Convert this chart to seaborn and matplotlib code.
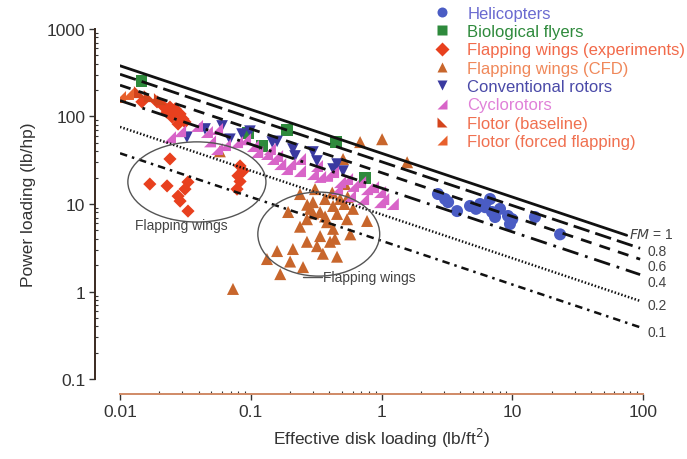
import numpy as np
import pandas as pd
import matplotlib
matplotlib.use("Agg")
import matplotlib.pyplot as plt
import seaborn as sns
from matplotlib.patches import Ellipse
from matplotlib.lines import Line2D
from matplotlib.ticker import LogLocator, NullFormatter, FixedLocator, FixedFormatter

# ---------------- data ----------------
hel_dl = [2.70, 3.06, 3.23, 3.78, 4.75, 5.28, 5.67, 6.19, 6.76, 7.0, 7.38, 8.06, 9.27, 9.6, 10.0, 14.9, 23.2]
hel_pl = [13.0, 11.4, 10.5, 8.3, 9.5, 8.8, 10.0, 9.2, 11.4, 8.1, 7.1, 8.8, 7.3, 5.9, 6.7, 7.1, 4.5]

bio_dl = [0.0147, 0.0953, 0.122, 0.189, 0.449, 0.748]
bio_pl = [255, 64.7, 46, 70, 51, 19.8]

fwe_dl = [0.0147, 0.0192, 0.0213, 0.0241, 0.0264, 0.0288, 0.0303, 0.0314, 0.0278, 0.0229, 0.025,
          0.0241, 0.0169, 0.0229, 0.0278, 0.0314, 0.0331, 0.0288, 0.0331,
          0.0828, 0.0798, 0.0828, 0.0785, 0.0873]
fwe_pl = [147, 147, 132, 128, 122, 107, 93.6, 86.5, 82, 112, 98.6,
          32.7, 16.9, 16.1, 12.3, 14.8, 17.8, 10.8, 8.3,
          27.2, 21, 18.1, 14.8, 23.8]

cfd_dl = [0.193, 0.238, 0.299, 0.269, 0.339, 0.383, 0.426, 0.482, 0.426, 0.339, 0.269, 0.210, 0.159,
          0.133, 0.168, 0.251, 0.457, 0.775, 0.0731, 0.321, 0.404, 0.545, 0.605, 0.686, 1.01, 1.57,
          0.508, 0.284, 0.37, 0.526, 0.31, 0.457, 0.238, 0.577, 0.2, 0.356, 0.42, 0.37, 0.30, 0.55,
          0.27, 0.44, 0.52, 0.058]
cfd_pl = [8.1, 13.0, 10.5, 6.7, 8.1, 6.2, 9.5, 11.4, 5.2, 4.3, 3.7, 3.06, 2.9,
          2.35, 1.58, 1.9, 2.5, 6.4, 1.07, 3.3, 3.7, 6.7, 8.8, 51, 55, 30,
          32.7, 8.8, 11.4, 16.9, 14.8, 7.7, 5.5, 4.5, 2.2, 2.7, 13.5, 7.2, 7.8, 12,
          9.8, 4.0, 10, 40]

conv_dl = [0.0325, 0.0603, 0.0693, 0.0857, 0.0986, 0.146, 0.159, 0.21, 0.218, 0.299, 0.321, 0.426,
           0.508, 0.457, 0.0447]
conv_pl = [58, 78, 55, 63, 68, 51, 52, 42.5, 35.4, 39.3, 31, 25.1, 23.8, 28.6, 72]

cyc_dl = [0.0241, 0.0288, 0.0388, 0.0462, 0.0552, 0.0488, 0.0552, 0.0635, 0.0785, 0.104, 0.112, 0.133,
          0.148, 0.159, 0.168, 0.189, 0.2, 0.238, 0.238, 0.299, 0.321, 0.339, 0.383, 0.426, 0.482,
          0.545, 0.605, 0.457, 0.574, 0.686, 0.723, 0.775, 0.861, 0.975, 1.03, 0.975, 1.22, 0.14, 0.0904]
cyc_pl = [58, 68, 78, 66.5, 72, 52, 42.5, 47.2, 51, 46, 39.3, 37.3,
          32.7, 35.4, 28.6, 25.1, 28.6, 23.8, 32.7, 22, 27.2, 20.4, 21, 23.2, 17.8,
          19.3, 16.1, 14.8, 12.3, 17.8, 11.4, 14.8, 15.6, 13.7, 11.4, 10.5, 10, 42.5, 55]

flb_dl = [0.0142, 0.0169, 0.0202]
flb_pl = [190, 171, 158]

flf_dl = [0.0100, 0.0115]
flf_pl = [167, 181]

# figure-of-merit reference lines (values read at the line ends)
fm_labels = ["$FM$ = 1", "0.8", "0.6", "0.4", "0.2", "0.1"]
fm_dl_start = [0.01, 0.01, 0.01, 0.01, 0.01, 0.01]
fm_dl_end = [75, 95, 95, 95, 95, 95]
fm_pl_start = [380, 304, 228, 152, 76, 38]
fm_pl_end = [4.39, 3.12, 2.34, 1.56, 0.78, 0.39]

x_ticks = [0.01, 0.1, 1, 10, 100]
x_tick_labels = ["0.01", "0.1", "1", "10", "100"]
y_ticks = [0.1, 1, 10, 100, 1000]
y_tick_labels = ["0.1", "1", "10", "100", "1000"]

# ---------------- style ----------------
sns.set_style("ticks")
plt.rcParams["font.family"] = ["Liberation Sans", "DejaVu Sans"]

fig = plt.figure(figsize=(6.87, 4.6), dpi=100)
ax = fig.add_axes([0.1747, 0.1739, 0.7613, 0.7609])
ax.set_xscale("log")
ax.set_yscale("log")

tri_br = [(-1, -1), (1, -1), (1, 1), (-1, -1)]   # right angle at bottom-right
tri_bl = [(-1, -1), (1, -1), (-1, 1), (-1, -1)]  # right angle at bottom-left

series = [
    ("Helicopters", hel_dl, hel_pl, "o", "#4a5cc4", "#6a6ad0", 75),
    ("Biological flyers", bio_dl, bio_pl, "s", "#2e8a3c", "#2e8a3c", 65),
    ("Flapping wings (experiments)", fwe_dl, fwe_pl, "D", "#e8401e", "#f26a4a", 45),
    ("Flapping wings (CFD)", cfd_dl, cfd_pl, "^", "#c8662c", "#f0885a", 75),
    ("Conventional rotors", conv_dl, conv_pl, "v", "#3a3aa0", "#4a4aa8", 70),
    ("Cyclorotors", cyc_dl, cyc_pl, tri_br, "#d864c8", "#e080d8", 75),
    ("Flotor (baseline)", flb_dl, flb_pl, tri_bl, "#d4441c", "#f07050", 75),
    ("Flotor (forced flapping)", flf_dl, flf_pl, tri_br, "#e8602c", "#f07050", 75),
]

for name, xs, ys, mk, col, tcol, s in series:
    df = pd.DataFrame({"dl": xs, "pl": ys})
    sns.scatterplot(data=df, x="dl", y="pl", ax=ax, marker=mk, s=s, color=col,
                    edgecolor="none", linewidth=0, zorder=2, legend=False)

styles = [
    dict(linestyle="-", lw=2.0),
    dict(linestyle=(0, (6, 2.2)), lw=2.0),
    dict(linestyle=(0, (4, 3)), lw=2.0),
    dict(linestyle=(0, (6, 2.5, 1, 2.5)), lw=2.0),
    dict(linestyle=(0, (0.6, 0.8)), lw=1.8),
    dict(linestyle=(0, (3, 2, 1, 2)), lw=1.8),
]
for i in range(len(fm_labels)):
    dfl = pd.DataFrame({"dl": [fm_dl_start[i], fm_dl_end[i]], "pl": [fm_pl_start[i], fm_pl_end[i]]})
    sns.lineplot(data=dfl, x="dl", y="pl", ax=ax, color="#111111", zorder=3,
                 linestyle=styles[i]["linestyle"], lw=styles[i]["lw"], legend=False)

# FM labels (axes fraction positions)
fm_lab_pos = [(0.973, 0.414), (1.008, 0.366), (1.008, 0.323), (1.008, 0.277), (1.008, 0.211), (1.008, 0.134)]
for lab, (px, py) in zip(fm_labels, fm_lab_pos):
    ax.text(px, py, lab, transform=ax.transAxes, fontsize=10, color="#444444",
            ha="left", va="center", clip_on=False)

# ellipses and annotations
ax.add_patch(Ellipse((0.147, 0.563), 0.264, 0.229, transform=ax.transAxes,
                     fill=False, edgecolor="#555555", lw=1.0, zorder=4))
ax.add_patch(Ellipse((0.380, 0.414), 0.233, 0.24, transform=ax.transAxes,
                     fill=False, edgecolor="#555555", lw=1.0, zorder=4))
ax.text(0.117, 0.44, "Flapping wings", transform=ax.transAxes, fontsize=10,
        color="#444444", ha="center", va="center")
ax.text(0.388, 0.291, "Flapping wings", transform=ax.transAxes, fontsize=10,
        color="#444444", ha="left", va="center")
ax.plot([0.35, 0.386], [0.291, 0.291], transform=ax.transAxes, color="#555555", lw=1.0)

# axes
ax.set_xlim(0.01, 100)
ax.set_ylim(0.1, 1000)
ax.xaxis.set_major_locator(FixedLocator(x_ticks))
ax.xaxis.set_major_formatter(FixedFormatter(x_tick_labels))
ax.yaxis.set_major_locator(FixedLocator(y_ticks))
ax.yaxis.set_major_formatter(FixedFormatter(y_tick_labels))
ax.xaxis.set_minor_locator(LogLocator(base=10, subs=np.arange(2, 10)))
ax.yaxis.set_minor_locator(LogLocator(base=10, subs=np.arange(2, 10)))
ax.xaxis.set_minor_formatter(NullFormatter())
ax.yaxis.set_minor_formatter(NullFormatter())

for sp in ("top", "right"):
    ax.spines[sp].set_visible(False)
ax.spines["left"].set_position(("outward", 18))
ax.spines["bottom"].set_position(("outward", 10.8))
ax.spines["left"].set_color("#3a2a20")
ax.spines["bottom"].set_color("#d08a66")
ax.spines["left"].set_linewidth(1.4)
ax.spines["bottom"].set_linewidth(1.4)

ax.tick_params(which="major", direction="out", length=4, width=1.0, color="#333333",
               labelcolor="#333333", labelsize=12.5, pad=3)
ax.tick_params(which="minor", direction="in", length=2.5, width=0.8, color="#333333")

ax.set_xlabel("Effective disk loading (lb/ft$^2$)", fontsize=12.5, color="#333333", labelpad=5)
ax.set_ylabel("Power loading (lb/hp)", fontsize=12.5, color="#333333", labelpad=8)

# legend
handles = []
for name, xs, ys, mk, col, tcol, s in series:
    handles.append(Line2D([], [], linestyle="none", marker=mk, markersize=7.2,
                          markerfacecolor=col, markeredgecolor="none", label=name))
leg = fig.legend(handles=handles, loc="upper left", bbox_to_anchor=(0.61, 1.0),
                 bbox_transform=fig.transFigure, frameon=False, fontsize=12,
                 labelspacing=0.2, handletextpad=0.5, borderaxespad=0)
for txt, (name, xs, ys, mk, col, tcol, s) in zip(leg.get_texts(), series):
    txt.set_color(tcol)

fig.savefig("out.png", dpi=100)
